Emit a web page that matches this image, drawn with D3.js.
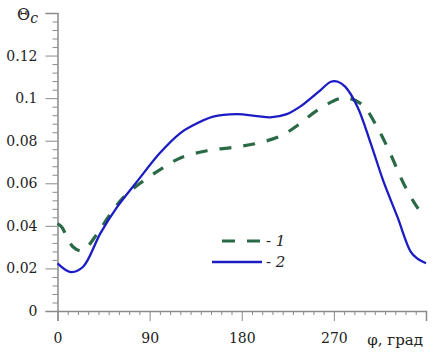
<!DOCTYPE html>
<html>
<head>
<meta charset="utf-8">
<script src="https://cdn.jsdelivr.net/npm/d3@7"></script>
<style>
  body { margin: 0; background: #fff; }
</style>
</head>
<body>
<script>
// angle, degrees
const phi1 = [0, 4, 15, 24, 38, 51, 64, 81, 103, 120, 146, 172, 195, 218, 235, 254, 276, 285, 298, 312, 325, 338, 351, 360];
// curve 1 (dashed)
const theta1 = [0.041, 0.0395, 0.0302, 0.0283, 0.0357, 0.0451, 0.0531, 0.0601, 0.0672, 0.0719, 0.0753, 0.0769, 0.0788, 0.0822, 0.0874, 0.0944, 0.0999, 0.0999, 0.0968, 0.0866, 0.0741, 0.0600, 0.0490, 0.0436];
const phi2 = [0, 13, 25, 42, 58, 78, 100, 120, 130, 152, 175, 195, 208, 224, 237, 257, 267, 274, 281, 293, 306, 318, 332, 345, 351, 360];
// curve 2 (solid)
const theta2 = [0.0224, 0.0183, 0.0208, 0.0366, 0.0487, 0.0610, 0.0742, 0.0836, 0.0866, 0.0913, 0.0925, 0.0916, 0.0910, 0.0925, 0.0960, 0.1038, 0.1077, 0.1077, 0.1054, 0.0960, 0.0788, 0.0615, 0.0443, 0.0279, 0.0248, 0.0224];
const xTicks = [0, 90, 180, 270];
const yTicks = [0, 0.02, 0.04, 0.06, 0.08, 0.1, 0.12];
const legendLabels = ['1', '2'];

const svg = d3.select('body').append('svg')
  .attr('width', 433)
  .attr('height', 355);

const x = d3.scaleLinear().domain([0, 360]).range([57.5, 426]);
const y = d3.scaleLinear().domain([0, 0.14]).range([311, 13]);

const axisColor = '#8a8a8a';
const serif = 'DejaVu Serif';

// y axis
const yMinor = d3.range(0, 0.1401, 0.004).filter(v => Math.abs(v / 0.02 - Math.round(v / 0.02)) > 1e-6);
svg.append('g')
  .attr('transform', `translate(${x(0)},0)`)
  .call(d3.axisLeft(y).tickValues(yMinor).tickSize(5).tickFormat(''))
  .call(g => g.select('.domain').remove())
  .call(g => g.selectAll('line').attr('stroke', axisColor));
svg.append('g')
  .attr('transform', `translate(${x(0)},0)`)
  .call(d3.axisLeft(y).tickValues(yTicks.concat([0.14])).tickSize(12).tickPadding(8)
    .tickFormat(d => yTicks.includes(d) ? String(d) : ''))
  .attr('font-family', serif)
  .attr('font-size', 14)
  .call(g => g.select('.domain').attr('stroke', axisColor).attr('stroke-width', 1.5))
  .call(g => g.selectAll('line').attr('stroke', axisColor))
  .call(g => g.selectAll('text').attr('fill', '#222'));

// x axis
const xMinor = d3.range(0, 361, 10).filter(v => v % 90 !== 0);
svg.append('g')
  .attr('transform', `translate(0,${y(0)})`)
  .call(d3.axisBottom(x).tickValues(xMinor).tickSize(4).tickFormat(''))
  .call(g => g.select('.domain').remove())
  .call(g => g.selectAll('line').attr('stroke', axisColor));
svg.append('g')
  .attr('transform', `translate(0,${y(0)})`)
  .call(d3.axisBottom(x).tickValues(xTicks.concat([360])).tickSize(10).tickPadding(12)
    .tickFormat(d => xTicks.includes(d) ? String(d) : ''))
  .attr('font-family', serif)
  .attr('font-size', 14)
  .call(g => g.select('.domain').attr('stroke', axisColor).attr('stroke-width', 1.5))
  .call(g => g.selectAll('line').attr('stroke', axisColor))
  .call(g => g.selectAll('text').attr('fill', '#222'));

// axis titles
const yt = svg.append('text').attr('x', 17).attr('y', 20)
  .attr('font-family', serif).attr('font-size', 16).attr('fill', '#222');
yt.append('tspan').text('Θ');
yt.append('tspan').attr('font-style', 'italic').attr('font-size', 14).attr('dy', 3).text('c');

svg.append('text')
  .attr('x', 423).attr('y', 345)
  .attr('text-anchor', 'end')
  .attr('font-family', serif)
  .attr('font-size', 15)
  .attr('fill', '#222')
  .text('φ, град');

// curves
const line = d3.line()
  .x(d => x(d[0]))
  .y(d => y(d[1]))
  .curve(d3.curveCatmullRom.alpha(0.5));

const c1 = '#2b6a47';
const c2 = '#1c1cc4';

svg.append('path')
  .datum(d3.zip(phi1, theta1))
  .attr('d', line)
  .attr('fill', 'none')
  .attr('stroke', c1)
  .attr('stroke-width', 3.2)
  .attr('stroke-dasharray', '12,12');

svg.append('path')
  .datum(d3.zip(phi2, theta2))
  .attr('d', line)
  .attr('fill', 'none')
  .attr('stroke', c2)
  .attr('stroke-width', 2.3);

// legend
const leg = svg.append('g');
leg.append('line')
  .attr('x1', 222).attr('x2', 261).attr('y1', 241).attr('y2', 241)
  .attr('stroke', c1).attr('stroke-width', 3.2).attr('stroke-dasharray', '13,12');
leg.append('line')
  .attr('x1', 212).attr('x2', 262).attr('y1', 262).attr('y2', 262)
  .attr('stroke', c2).attr('stroke-width', 2.3);
legendLabels.forEach((lab, i) => {
  const t = leg.append('text')
    .attr('x', 266).attr('y', 246 + i * 21)
    .attr('font-family', serif)
    .attr('font-size', 15)
    .attr('fill', '#222');
  t.append('tspan').text('- ');
  t.append('tspan').attr('font-style', 'italic').text(lab);
});
</script>
</body>
</html>
